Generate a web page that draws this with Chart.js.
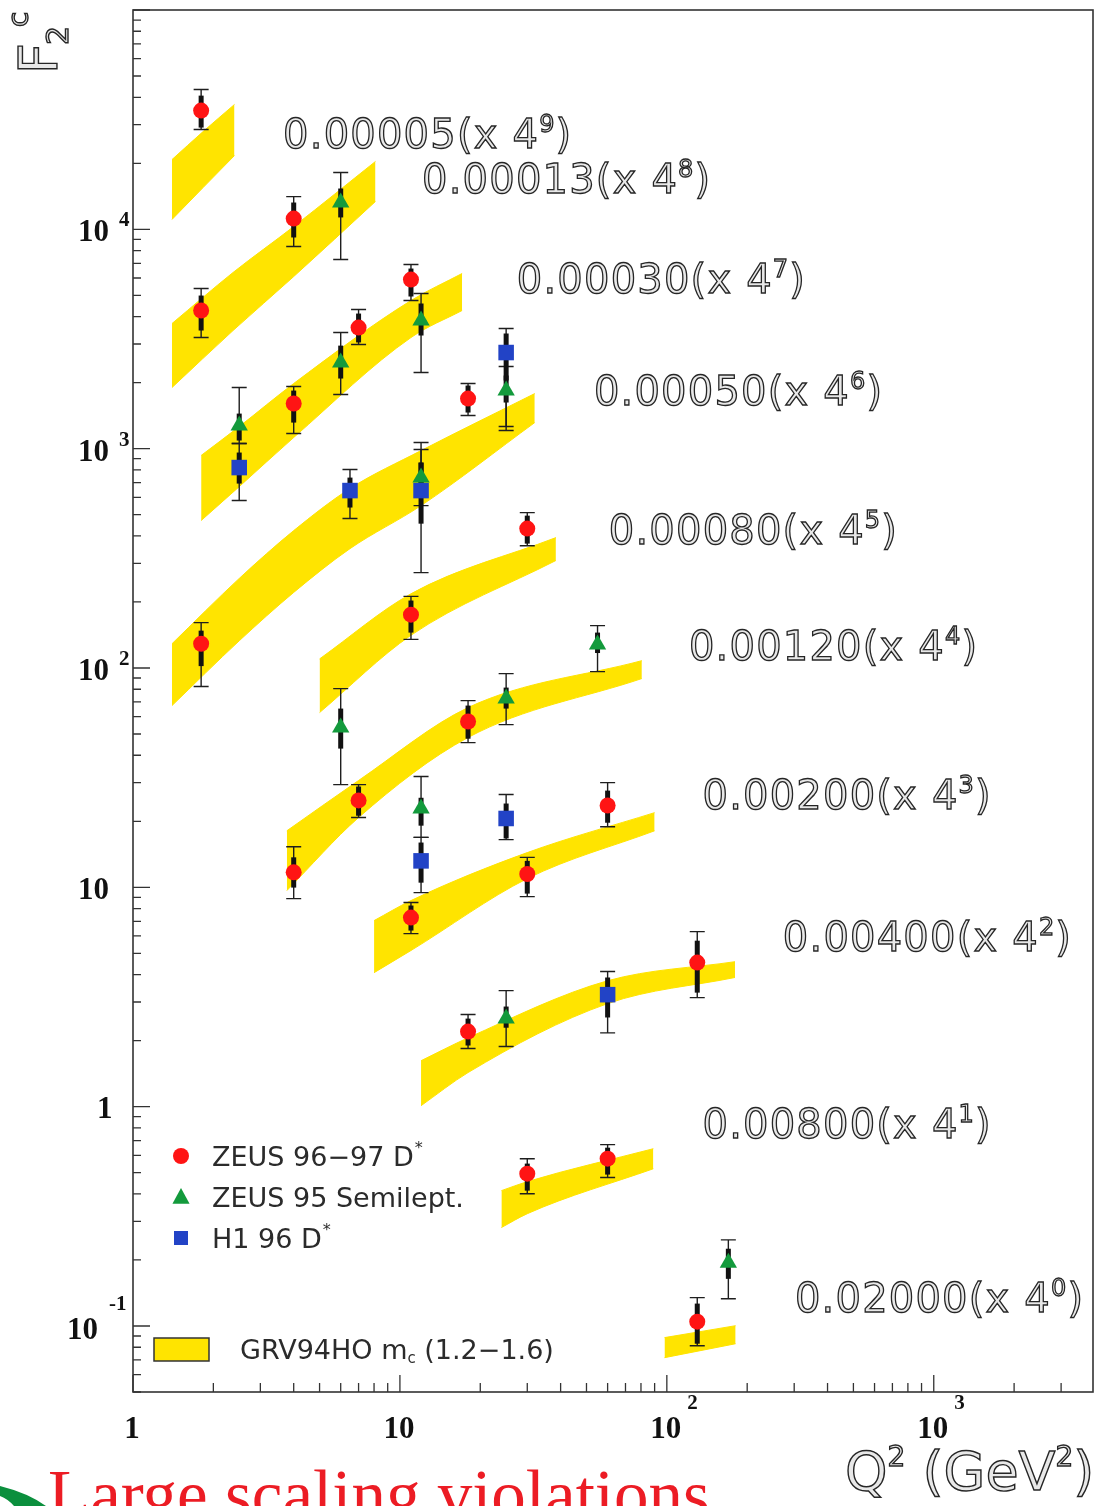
<!DOCTYPE html>
<html>
<head>
<meta charset="utf-8">
<title>F2c vs Q2</title>
<script src="https://cdn.jsdelivr.net/npm/chart.js@4.4.1/dist/chart.umd.min.js"></script>
<style>
  html, body { margin: 0; padding: 0; background: #fff; }
  #chart { display: block; }
</style>
</head>
<body>
<canvas id="chart" width="1094" height="1506"></canvas>
<script>
// x bins, each one shifted up by 4^n
const xBins = ['0.00005', '0.00013', '0.00030', '0.00050', '0.00080', '0.00120', '0.00200', '0.00400', '0.00800', '0.02000'];
const xPowers = [9, 8, 7, 6, 5, 4, 3, 2, 1, 0];

// ZEUS 96-97 D* : Q2, F2c x 4^n, stat and total error limits
const zeusDstarQ2 = [1.8, 1.8, 4, 4, 7, 11, 18, 30, 1.8, 11, 18, 7, 4, 60, 30, 11, 18, 130, 30, 60, 130];
const zeusDstarF2 = [34800, 4265, 11200, 1607, 3565, 5900, 1692, 432, 129, 175, 57, 24.9, 11.7, 23.6, 11.5, 7.28, 2.2, 4.54, 0.495, 0.579, 0.1046];
const zeusDstarStatLo = [29100, 3456, 9180, 1315, 3050, 4940, 1461, 369, 102, 145, 47.6, 21.2, 9.97, 19.7, 9.36, 6.35, 1.9, 3.31, 0.414, 0.49, 0.083];
const zeusDstarStatHi = [40700, 4990, 13250, 1840, 4130, 6625, 1940, 495, 148, 203, 67.4, 28.8, 13.7, 27.6, 13.2, 8.26, 2.52, 5.71, 0.55, 0.65, 0.1265];
const zeusDstarTotLo = [28500, 3210, 8350, 1172, 2985, 4735, 1416, 361, 82.3, 135, 45.7, 20.8, 8.88, 18.9, 9.07, 6.15, 1.84, 3.14, 0.401, 0.475, 0.0813];
const zeusDstarTotHi = [43400, 5370, 14100, 1920, 4310, 6910, 1982, 511, 161, 212, 71, 29.4, 15.3, 30, 13.7, 8.52, 2.63, 6.28, 0.579, 0.671, 0.1346];

// ZEUS 95 semileptonic
const zeusSlQ2 = [6, 2.5, 6, 12, 25, 12, 6, 25, 55, 12, 25, 170];
const zeusSlF2 = [13250, 1275, 2470, 3840, 1841, 738, 53.5, 72.5, 128, 22.9, 2.52, 0.194];
const zeusSlStatLo = [11330, 1089, 2088, 3280, 1623, 611, 42.9, 65.3, 117, 19.1, 2.29, 0.164];
const zeusSlStatHi = [15350, 1445, 2950, 4590, 2155, 864, 65.3, 81.4, 145, 25.6, 2.86, 0.225];
const zeusSlTotLo = [7280, 1055, 1765, 2223, 1210, 550, 29.4, 55.2, 96.3, 16.9, 1.88, 0.133];
const zeusSlTotHi = [18150, 1900, 3385, 5095, 2368, 991, 80.5, 94.3, 156, 32, 3.38, 0.247];

// H1 96 D*
const h1Q2 = [2.5, 6.5, 12, 25, 12, 25, 60];
const h1F2 = [820, 644, 644, 2743, 13.2, 20.6, 3.24];
const h1StatLo = [693, 539, 455, 2045, 10.5, 16.7, 2.55];
const h1StatHi = [960, 738, 864, 3350, 16, 24.1, 3.88];
const h1TotLo = [580, 480, 272, 1262, 9.46, 16.5, 2.17];
const h1TotHi = [1055, 803, 1066, 3530, 16.9, 26.5, 4.13];

// GRV94HO, mc = 1.2 - 1.6 : band edges per x bin
const bandQ2 = [
  [1.4, 1.83, 2.4],
  [1.4, 2.37, 4, 8.1],
  [1.8, 2.5, 4, 11, 17.1],
  [1.4, 2.5, 4, 6.5, 12, 32],
  [5, 11, 38.4],
  [3.77, 7, 18, 80.6],
  [8, 11, 30, 90],
  [12, 18, 60, 180],
  [24, 30, 89],
  [98, 181]
];
const bandLo = [
  [11090, 15500, 21700],
  [1900, 3455, 6090, 13400],
  [470, 671, 1124, 3210, 4265],
  [67.4, 133, 221, 350, 550, 1315],
  [62.6, 141, 309],
  [9.66, 20.8, 48.2, 89.5],
  [4.08, 5.15, 10.96, 18.1],
  [1.01, 1.43, 2.95, 3.88],
  [0.281, 0.325, 0.521],
  [0.0717, 0.083]
];
const bandHi = [
  [20800, 27900, 37100],
  [3720, 6355, 10300, 20400],
  [931, 1261, 1982, 4735, 6290],
  [129, 256, 423, 658, 980, 1783],
  [110, 218, 393],
  [18.1, 30.7, 66, 108],
  [7.05, 8.7, 14.4, 21.9],
  [1.62, 2.06, 3.75, 4.58],
  [0.414, 0.455, 0.643],
  [0.0885, 0.1003]
];

const RED = '#ff1414';
const GREEN = '#139a3c';
const BLUE = '#2243c6';
const YELLOW = '#ffe400';
const INK = '#2b2b2b';
const SANS = '"DejaVu Sans", sans-serif';
const SERIF = '"Liberation Serif", "Times New Roman", serif';

const series = [
  { label: 'ZEUS 96-97 D*', style: 'circle', radius: 8, color: RED,
    q2: zeusDstarQ2, f2: zeusDstarF2, statLo: zeusDstarStatLo, statHi: zeusDstarStatHi, totLo: zeusDstarTotLo, totHi: zeusDstarTotHi },
  { label: 'ZEUS 95 Semilept.', style: 'triangle', radius: 10, color: GREEN,
    q2: zeusSlQ2, f2: zeusSlF2, statLo: zeusSlStatLo, statHi: zeusSlStatHi, totLo: zeusSlTotLo, totHi: zeusSlTotHi },
  { label: 'H1 96 D*', style: 'rect', radius: 11, color: BLUE,
    q2: h1Q2, f2: h1F2, statLo: h1StatLo, statHi: h1StatHi, totLo: h1TotLo, totHi: h1TotHi }
];

const datasets = [];
series.forEach(s => {
  datasets.push({
    type: 'scatter',
    label: s.label,
    order: 1,
    data: s.q2.map((q, i) => ({ x: q, y: s.f2[i] })),
    pointStyle: s.style,
    pointRadius: s.radius,
    pointBackgroundColor: s.color,
    pointBorderWidth: 0,
    pointBorderColor: s.color
  });
});
bandQ2.forEach((q, b) => {
  datasets.push({
    type: 'line', order: 2,
    data: q.map((v, i) => ({ x: v, y: bandHi[b][i] })),
    borderColor: YELLOW, borderWidth: 1, backgroundColor: YELLOW,
    pointRadius: 0, fill: '+1', cubicInterpolationMode: 'monotone'
  });
  datasets.push({
    type: 'line', order: 2,
    data: q.map((v, i) => ({ x: v, y: bandLo[b][i] })),
    borderColor: YELLOW, borderWidth: 1, backgroundColor: YELLOW,
    pointRadius: 0, fill: false, cubicInterpolationMode: 'monotone'
  });
});

// where the x-bin captions sit (Q2, F2 of left end of baseline)
const captionAt = [
  [3.65, 23600], [12.1, 14700], [27.4, 5150], [53.3, 1589], [60.6, 369],
  [121, 109], [136, 22.8], [272, 5.15], [136, 0.722], [302, 0.116]
];

function drawParts(ctx, x, y, parts, o) {
  let cx = x;
  ctx.textAlign = 'left';
  ctx.textBaseline = 'alphabetic';
  ctx.letterSpacing = o.spacing || '0px';
  parts.forEach(p => {
    ctx.font = `${o.weight || 'normal'} ${p.size}px ${o.family}`;
    const yy = y + (p.dy || 0);
    if (o.fill) { ctx.fillStyle = o.fill; ctx.fillText(p.t, cx, yy); }
    if (o.stroke) { ctx.strokeStyle = o.stroke; ctx.lineWidth = o.lineWidth || 1; ctx.strokeText(p.t, cx, yy); }
    cx += ctx.measureText(p.t).width;
  });
  ctx.letterSpacing = '0px';
  return cx - x;
}

function logTicks(min, max) {
  const out = [];
  for (let e = Math.floor(Math.log10(min)); e <= Math.ceil(Math.log10(max)); e++) {
    for (let m = 1; m < 10; m++) {
      const v = m * Math.pow(10, e);
      if (v >= min * 0.999 && v <= max * 1.001) out.push({ v, major: m === 1 });
    }
  }
  return out;
}

function marker(ctx, style, x, y, r, color) {
  ctx.fillStyle = color;
  ctx.beginPath();
  if (style === 'circle') {
    ctx.arc(x, y, r, 0, Math.PI * 2);
  } else if (style === 'triangle') {
    ctx.moveTo(x, y - r);
    ctx.lineTo(x + r * 0.95, y + r * 0.75);
    ctx.lineTo(x - r * 0.95, y + r * 0.75);
    ctx.closePath();
  } else {
    ctx.rect(x - r, y - r, 2 * r, 2 * r);
  }
  ctx.fill();
}

function drawErrorBars(chart) {
  const { ctx, chartArea: a, scales: { x, y } } = chart;
  ctx.save();
  ctx.beginPath();
  ctx.rect(a.left, a.top, a.right - a.left, a.bottom - a.top);
  ctx.clip();
  series.forEach(s => {
    s.q2.forEach((q, i) => {
      const px = x.getPixelForValue(q);
      const t0 = y.getPixelForValue(s.totHi[i]);
      const t1 = y.getPixelForValue(s.totLo[i]);
      ctx.strokeStyle = '#1e1e1e';
      ctx.lineWidth = 1.4;
      ctx.beginPath();
      ctx.moveTo(px, t0); ctx.lineTo(px, t1);
      ctx.moveTo(px - 7.5, t0); ctx.lineTo(px + 7.5, t0);
      ctx.moveTo(px - 7.5, t1); ctx.lineTo(px + 7.5, t1);
      ctx.stroke();
      ctx.strokeStyle = '#111';
      ctx.lineWidth = 5;
      ctx.beginPath();
      ctx.moveTo(px, y.getPixelForValue(s.statHi[i]));
      ctx.lineTo(px, y.getPixelForValue(s.statLo[i]));
      ctx.stroke();
    });
  });
  ctx.restore();
}

let barsDone = false;
const decor = {
  id: 'decor',
  beforeDraw(chart) {
    const { ctx, width, height } = chart;
    ctx.save();
    ctx.fillStyle = '#fff';
    ctx.fillRect(0, 0, width, height);
    ctx.restore();
  },
  beforeDatasetsDraw() { barsDone = false; },
  beforeDatasetDraw(chart, args) {
    if (!barsDone && args.meta.type === 'scatter') {
      drawErrorBars(chart);
      barsDone = true;
    }
  },
  afterDraw(chart) {
    const { ctx, chartArea: a, scales: { x, y } } = chart;
    ctx.save();

    // frame and inward ticks
    ctx.strokeStyle = '#333';
    ctx.lineWidth = 1.6;
    ctx.strokeRect(a.left, a.top, a.right - a.left, a.bottom - a.top);
    ctx.lineWidth = 1.3;
    ctx.beginPath();
    logTicks(x.min, x.max).forEach(t => {
      const px = x.getPixelForValue(t.v);
      ctx.moveTo(px, a.bottom);
      ctx.lineTo(px, a.bottom - (t.major ? 17 : 9));
    });
    logTicks(y.min, y.max).forEach(t => {
      const py = y.getPixelForValue(t.v);
      ctx.moveTo(a.left, py);
      ctx.lineTo(a.left + (t.major ? 17 : 8), py);
    });
    ctx.stroke();

    // y tick labels
    const lab = { family: SERIF, weight: 'bold', fill: '#111' };
    [[10000, '4'], [1000, '3'], [100, '2']].forEach(([v, e]) => {
      const py = y.getPixelForValue(v);
      drawParts(ctx, a.left - 55, py + 12, [{ t: '10', size: 31 }], lab);
      drawParts(ctx, a.left - 14, py - 3, [{ t: e, size: 21 }], lab);
    });
    drawParts(ctx, a.left - 55, y.getPixelForValue(10) + 12, [{ t: '10', size: 31 }], lab);
    drawParts(ctx, a.left - 36, y.getPixelForValue(1) + 11, [{ t: '1', size: 31 }], lab);
    const p01 = y.getPixelForValue(0.1);
    drawParts(ctx, a.left - 66, p01 + 13, [{ t: '10', size: 31 }], lab);
    drawParts(ctx, a.left - 24, p01 - 16, [{ t: '-1', size: 21 }], lab);

    // x tick labels
    const xl = a.bottom + 46;
    [[1, ''], [10, ''], [100, '2'], [1000, '3']].forEach(([v, e]) => {
      const px = x.getPixelForValue(v);
      const base = v === 1 ? '1' : '10';
      ctx.font = `bold 31px ${SERIF}`;
      const w = ctx.measureText(base).width;
      drawParts(ctx, px - w / 2 - 1, xl, [{ t: base, size: 31 }], lab);
      if (e) drawParts(ctx, px + w / 2 + 5, xl - 29, [{ t: e, size: 21 }], lab);
    });

    // x-bin captions
    const hollow = { family: SANS, fill: '#e8e8e8', stroke: '#262626', lineWidth: 1.3, spacing: '1.2px' };
    xBins.forEach((bin, i) => {
      const px = x.getPixelForValue(captionAt[i][0]);
      const py = y.getPixelForValue(captionAt[i][1]);
      drawParts(ctx, px, py, [
        { t: bin + '(x 4', size: 40 },
        { t: String(xPowers[i]), size: 24, dy: -16 },
        { t: ')', size: 40 }
      ], hollow);
    });

    // axis titles
    const titleStyle = { family: SANS, fill: '#e8e8e8', stroke: '#262626', lineWidth: 1.4 };
    ctx.save();
    ctx.translate(57, 74);
    ctx.rotate(-Math.PI / 2);
    drawParts(ctx, 0, 0, [{ t: 'F', size: 54 }], titleStyle);
    drawParts(ctx, 29, 11, [{ t: '2', size: 30 }], titleStyle);
    drawParts(ctx, 47, -29, [{ t: 'c', size: 28 }], titleStyle);
    ctx.restore();
    drawParts(ctx, 845, a.bottom + 98, [
      { t: 'Q', size: 54 }, { t: '2', size: 28, dy: -24 }, { t: ' (GeV', size: 54 },
      { t: '2', size: 28, dy: -24 }, { t: ')', size: 54 }
    ], titleStyle);

    // legend
    const lx = a.left + 48;
    const lt = { family: SANS, fill: INK };
    series.forEach((s, i) => {
      const cy = a.bottom - 236 + i * 41;
      const r = s.style === 'circle' ? 8 : s.style === 'triangle' ? 9 : 7;
      marker(ctx, s.style, lx, cy, r, s.color);
      const txt = s.label.replace('*', '').replace('96-97', '96\u221297');
      const w = drawParts(ctx, lx + 31, cy + 10, [{ t: txt, size: 27 }], lt);
      if (s.label.endsWith('*')) drawParts(ctx, lx + 31 + w + 1, cy - 3, [{ t: '*', size: 16 }], lt);
    });
    ctx.fillStyle = YELLOW;
    ctx.strokeStyle = '#333';
    ctx.lineWidth = 1.5;
    ctx.fillRect(a.left + 21, a.bottom - 54, 55, 23);
    ctx.strokeRect(a.left + 21, a.bottom - 54, 55, 23);
    drawParts(ctx, a.left + 107, a.bottom - 33, [
      { t: 'GRV94HO m', size: 27 }, { t: 'c', size: 15, dy: 4 }, { t: ' (1.2\u22121.6)', size: 27 }
    ], lt);

    // slide caption at the bottom
    ctx.fillStyle = '#ec1c24';
    ctx.font = `60px ${SERIF}`;
    const cap = 'Large scaling violations';
    const cw = ctx.measureText(cap).width;
    const fs = 60 * 662 / cw;
    ctx.font = `${fs}px ${SERIF}`;
    ctx.textAlign = 'left';
    ctx.fillText(cap, 48, 1472 + fs * 0.66);

    ctx.fillStyle = '#0b8f3d';
    ctx.beginPath();
    ctx.moveTo(0, 1486);
    ctx.quadraticCurveTo(28, 1493, 46, 1506);
    ctx.lineTo(14, 1506);
    ctx.quadraticCurveTo(8, 1499, 0, 1496);
    ctx.closePath();
    ctx.fill();
    ctx.restore();
  }
};

new Chart(document.getElementById('chart'), {
  type: 'scatter',
  data: { datasets },
  options: {
    responsive: false,
    animation: false,
    devicePixelRatio: 1,
    layout: { autoPadding: false, padding: { top: 10, right: 1, left: 0, bottom: 0 } },
    plugins: { legend: { display: false }, tooltip: { enabled: false } },
    scales: {
      x: {
        type: 'logarithmic', min: 1, max: 3950,
        grid: { display: false }, border: { display: false },
        ticks: { display: false },
        afterFit: s => { s.height = 114; }
      },
      y: {
        type: 'logarithmic', min: 0.05, max: 100000,
        grid: { display: false }, border: { display: false },
        ticks: { display: false },
        afterFit: s => { s.width = 133; }
      }
    }
  },
  plugins: [decor]
});
</script>
</body>
</html>
